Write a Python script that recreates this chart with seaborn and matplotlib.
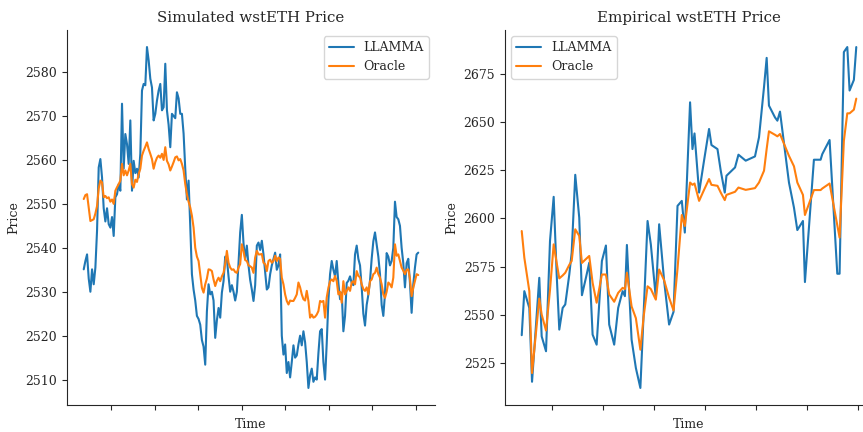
import numpy as np
import pandas as pd
import matplotlib
matplotlib.use("Agg")
import matplotlib.pyplot as plt
import seaborn as sns

# ---------------- data ----------------
# Simulated panel: one sample per step
sim_llamma = [
    2535.1, 2537.0, 2538.5, 2533.0, 2530.0, 2535.1, 2531.7, 2535.5, 2543.9, 2558.3,
    2560.2, 2556.0, 2549.0, 2546.0, 2549.0, 2545.4, 2544.6, 2547.0, 2542.7, 2551.5,
    2552.2, 2554.5, 2553.0, 2572.8, 2558.0, 2565.9, 2563.6, 2559.1, 2569.0, 2553.0,
    2559.8, 2557.0, 2558.0, 2556.0, 2561.4, 2575.8, 2577.3, 2577.0, 2585.7, 2582.7,
    2578.5, 2576.5, 2569.0, 2570.5, 2573.5, 2575.8, 2577.3, 2571.3, 2572.0, 2581.9,
    2571.3, 2568.0, 2562.9, 2570.5, 2570.0, 2569.5, 2575.4, 2574.0, 2570.5, 2570.5,
    2566.0, 2558.0, 2551.0, 2555.3, 2545.0, 2534.0, 2530.5, 2528.0, 2524.5, 2523.8,
    2522.5, 2519.0, 2517.5, 2513.4, 2525.5, 2531.7, 2529.4, 2530.0, 2528.0, 2519.5,
    2523.5, 2526.3, 2524.1, 2529.8, 2532.4, 2538.0, 2537.5, 2533.5, 2530.0, 2531.5,
    2530.0, 2528.0, 2530.0, 2536.5, 2543.5, 2547.5, 2541.0, 2537.5, 2540.5, 2536.0,
    2532.7, 2530.5, 2527.9, 2531.5, 2540.5, 2541.2, 2539.5, 2541.6, 2538.5, 2534.5,
    2530.5, 2531.0, 2534.0, 2536.0, 2537.5, 2538.9, 2535.0, 2536.0, 2538.5, 2520.0,
    2515.7, 2518.0, 2511.5, 2514.0, 2510.5, 2514.0, 2517.8, 2515.0, 2515.5, 2518.0,
    2520.0, 2517.8, 2521.0, 2518.5, 2514.0, 2508.1, 2511.0, 2512.5, 2509.5, 2510.5,
    2510.0, 2516.0, 2521.0, 2521.5, 2514.0, 2510.0, 2518.3, 2528.0, 2534.0, 2537.0,
    2535.0, 2533.5, 2537.0, 2532.0, 2528.3, 2529.8, 2521.0, 2524.5, 2532.0, 2532.5,
    2533.5, 2532.0, 2531.5, 2538.5, 2540.5, 2537.5, 2536.0, 2531.0, 2525.0, 2522.3,
    2527.0, 2529.3, 2532.5, 2537.5, 2541.5, 2543.5, 2540.8, 2538.0, 2534.0, 2527.0,
    2524.5, 2529.5, 2538.8, 2538.0, 2536.0, 2537.0, 2540.0, 2550.5, 2547.0, 2546.5,
    2545.0, 2540.0, 2536.5, 2531.0, 2536.5, 2537.5, 2532.0, 2525.2, 2531.7, 2535.5,
    2538.5, 2538.9,
]
sim_oracle = [
    2551.1, 2552.0, 2552.2, 2549.2, 2546.1, 2546.3, 2546.5, 2547.8, 2549.5, 2553.5,
    2555.3, 2554.9, 2551.5, 2551.8, 2551.3, 2551.5, 2550.5, 2551.0, 2550.0, 2553.0,
    2553.8, 2554.5, 2555.3, 2559.1, 2556.5, 2557.6, 2556.5, 2557.6, 2559.1, 2554.5,
    2553.7, 2555.5, 2555.0, 2556.8, 2558.0, 2561.0, 2562.1, 2563.0, 2564.0, 2562.5,
    2561.4, 2560.2, 2558.0, 2559.5, 2560.5, 2561.0, 2560.5, 2561.4, 2560.0, 2562.9,
    2559.8, 2559.0, 2557.6, 2558.5, 2559.5, 2560.6, 2560.8, 2559.9, 2560.2, 2559.1,
    2557.6, 2554.5, 2552.2, 2550.5, 2549.2, 2547.3, 2544.6, 2540.0, 2538.0, 2537.0,
    2534.0, 2530.9, 2529.8, 2531.7, 2533.0, 2535.1, 2535.0, 2534.7, 2532.8, 2531.3,
    2532.5, 2533.2, 2532.4, 2533.5, 2534.3, 2536.3, 2539.3, 2536.6, 2535.5, 2535.0,
    2535.1, 2534.5, 2534.3, 2535.5, 2536.3, 2540.8, 2539.3, 2537.2, 2537.0, 2536.0,
    2535.8, 2535.5, 2534.3, 2537.8, 2539.3, 2538.5, 2538.5, 2538.6, 2536.6, 2536.3,
    2534.7, 2537.0, 2537.3, 2536.6, 2537.0, 2538.2, 2537.0, 2537.8, 2537.5, 2533.2,
    2531.7, 2529.4, 2527.9, 2527.1, 2528.0, 2527.9, 2527.9, 2528.6, 2529.4, 2532.1,
    2531.0, 2529.4, 2528.3, 2528.0, 2530.2, 2527.9, 2524.1, 2524.8, 2524.1, 2524.3,
    2524.8, 2525.6, 2527.9, 2527.7, 2527.9, 2524.1, 2528.7, 2530.9, 2532.4, 2532.8,
    2532.4, 2533.6, 2532.4, 2529.4, 2530.0, 2527.5, 2532.4, 2529.4, 2530.2, 2531.0,
    2530.2, 2532.1, 2532.4, 2531.7, 2534.7, 2533.6, 2533.3, 2531.7, 2530.6, 2530.2,
    2531.0, 2529.4, 2532.4, 2532.8, 2534.0, 2534.3, 2535.5, 2534.0, 2533.2, 2531.7,
    2529.4, 2528.6, 2530.0, 2532.1, 2531.7, 2531.0, 2533.2, 2540.8, 2538.2, 2538.5,
    2537.0, 2535.5, 2534.8, 2534.0, 2535.0, 2535.1, 2533.0, 2529.0, 2530.9, 2532.5,
    2534.0, 2533.8,
]
sim_tick_start = 16.4   # step index of the first (unlabelled) time tick
sim_tick_step = 26.16   # steps between time ticks
sim_tick_count = 8

# Empirical panel: time in days, irregular sampling
emp_time = [
    -0.593, -0.542, -0.444, -0.391, -0.249, -0.202, -0.117, -0.039, 0.033, 0.092,
    0.143, 0.209, 0.260, 0.339, 0.386, 0.456, 0.534, 0.587, 0.665, 0.730,
    0.796, 0.875, 0.978, 1.057, 1.121, 1.219, 1.297, 1.384, 1.429, 1.468,
    1.560, 1.644, 1.732, 1.795, 1.873, 1.937, 2.035, 2.100, 2.198, 2.295,
    2.382, 2.460, 2.544, 2.603, 2.706, 2.753, 2.793, 2.883, 2.980, 3.078,
    3.125, 3.243, 3.307, 3.386, 3.419, 3.587, 3.654, 3.796, 3.978, 4.057,
    4.155, 4.207, 4.252, 4.370, 4.417, 4.468, 4.644, 4.742, 4.808, 4.918,
    4.957, 5.133, 5.264, 5.297, 5.440, 5.591, 5.636, 5.720, 5.787, 5.832,
    5.916, 5.963,
]
emp_llamma = [
    2539.6, 2562.4, 2553.7, 2515.5, 2569.3, 2539.0, 2531.3, 2588.3, 2611.2, 2571.0,
    2542.5, 2553.7, 2555.5, 2571.0, 2582.3, 2622.6, 2600.4, 2560.3, 2569.3, 2577.1,
    2539.9, 2534.7, 2578.0, 2586.0, 2545.1, 2534.7, 2553.7, 2562.4, 2559.8, 2586.3,
    2537.3, 2522.6, 2512.3, 2550.3, 2598.7, 2586.6, 2558.9, 2597.0, 2567.6, 2545.1,
    2551.7, 2606.5, 2609.1, 2592.7, 2660.1, 2635.9, 2644.0, 2613.4, 2630.0, 2646.3,
    2638.0, 2635.9, 2624.7, 2613.4, 2622.1, 2626.4, 2633.0, 2629.9, 2632.1, 2642.0,
    2668.0, 2683.1, 2658.4, 2652.3, 2650.6, 2655.3, 2618.6, 2605.6, 2594.0, 2598.7,
    2567.1, 2630.4, 2630.4, 2633.3, 2640.6, 2571.4, 2571.4, 2686.1, 2688.7, 2666.2,
    2671.7, 2688.7,
]
emp_oracle = [
    2593.5, 2579.7, 2562.4, 2520.0, 2558.5, 2550.3, 2542.0, 2563.0, 2586.6, 2577.0,
    2569.0, 2570.5, 2571.9, 2576.0, 2578.0, 2594.4, 2591.0, 2577.0, 2579.0, 2580.6,
    2566.7, 2556.4, 2571.0, 2571.0, 2560.7, 2556.9, 2561.5, 2564.1, 2563.5, 2571.9,
    2554.5, 2548.4, 2532.1, 2549.0, 2564.9, 2563.5, 2558.0, 2573.6, 2568.0, 2559.0,
    2552.4, 2574.0, 2601.8, 2596.1, 2618.6, 2617.4, 2618.1, 2609.1, 2614.8, 2620.4,
    2617.4, 2616.9, 2613.4, 2609.5, 2612.2, 2613.8, 2616.0, 2614.8, 2615.7, 2618.6,
    2624.7, 2636.0, 2645.1, 2643.3, 2642.5, 2643.7, 2632.4, 2627.0, 2618.6, 2612.2,
    2601.8, 2614.7, 2614.7, 2615.5, 2618.1, 2596.5, 2590.1, 2640.2, 2654.4, 2654.4,
    2656.3, 2662.0,
]
emp_ticks = [0, 1, 2, 3, 4, 5, 6]

series_names = ["LLAMMA", "Oracle"]
titles = ["Simulated wstETH Price", "Empirical wstETH Price"]

# ---------------- plot ----------------
sns.set_style("ticks")
plt.rcParams["font.family"] = "serif"
plt.rcParams["font.serif"] = ["DejaVu Serif"]
palette = sns.color_palette("tab10")

fig = plt.figure(figsize=(8.63, 4.32), dpi=100)
ax1 = fig.add_axes([67 / 863, 27 / 432, 368 / 863, 375 / 432])
ax2 = fig.add_axes([505 / 863, 27 / 432, 368 / 863, 375 / 432])

sim_steps = np.arange(len(sim_llamma))
sns.lineplot(x=sim_steps, y=sim_llamma, ax=ax1, color=palette[0], label=series_names[0], lw=1.5)
sns.lineplot(x=np.arange(len(sim_oracle)), y=sim_oracle, ax=ax1, color=palette[1], label=series_names[1], lw=1.5)

sns.lineplot(x=emp_time, y=emp_llamma, ax=ax2, color=palette[0], label=series_names[0], lw=1.5)
sns.lineplot(x=emp_time, y=emp_oracle, ax=ax2, color=palette[1], label=series_names[1], lw=1.5)

ax1.set_xticks(sim_tick_start + sim_tick_step * np.arange(sim_tick_count))
ax2.set_xticks(emp_ticks)

for ax, title, loc in zip([ax1, ax2], titles, ["upper right", "upper left"]):
    ax.set_title(title, fontsize=10.8)
    ax.set_xlabel("Time", fontsize=9, labelpad=2)
    ax.set_ylabel("Price", fontsize=9)
    ax.set_xticklabels([])
    ax.tick_params(axis="y", labelsize=9)
    ax.legend(loc=loc, fontsize=9)
    sns.despine(ax=ax)

fig.savefig("out.png", dpi=100)
